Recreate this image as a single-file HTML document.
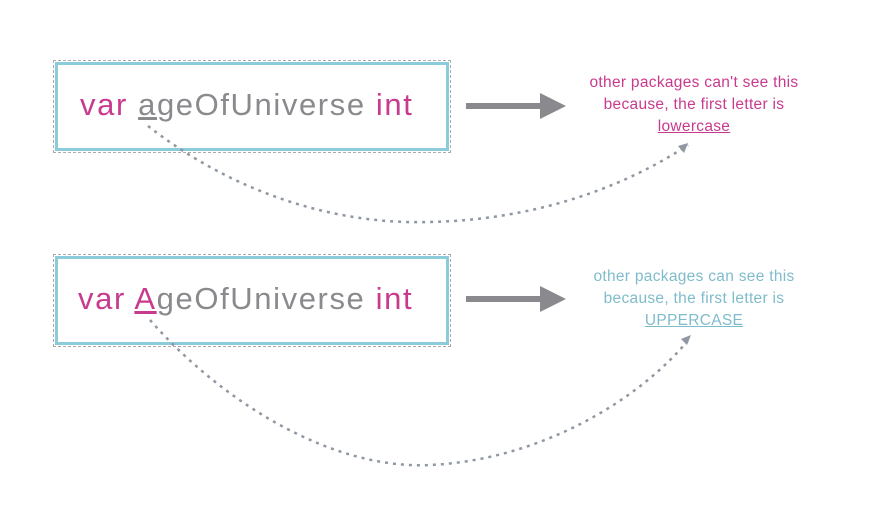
<!DOCTYPE html>
<html><head><style>
body{margin:0;width:880px;height:528px;background:#fff;overflow:hidden;position:relative;font-family:"Liberation Sans",sans-serif}
.box{position:absolute;border:3px solid #8ccbd9;box-sizing:border-box;outline:1px dashed #aaa;outline-offset:1px}
.code{position:absolute;font-size:31px;color:#8a8a8e;white-space:nowrap;letter-spacing:1.6px}
.p{color:#c83a8e}
.note{position:absolute;width:280px;text-align:center;font-size:15.5px;line-height:22px;letter-spacing:0.3px}
</style></head><body>
<div class="box" style="left:55px;top:62px;width:394px;height:89px"></div>
<div class="box" style="left:55px;top:256px;width:394px;height:89px"></div>
<div class="code" style="left:80px;top:87px"><span class="p">var</span> <u>a</u>geOfUniverse <span class="p">int</span></div>
<div class="code" style="left:78px;top:281px"><span class="p">var</span> <u class="p">A</u>geOfUniverse <span class="p">int</span></div>
<div class="note" style="left:554px;top:72px;color:#c83a8e">other packages can't see this<br>because, the first letter is<br><u>lowercase</u></div>
<div class="note" style="left:554px;top:266px;color:#7fbccb">other packages can see this<br>because, the first letter is<br><u>UPPERCASE</u></div>
<svg width="880" height="528" style="position:absolute;left:0;top:0">
<g fill="#8a8a8e" stroke="#8a8a8e">
<line x1="466" y1="106" x2="545" y2="106" stroke-width="6"/>
<polygon points="540,93 566,106 540,119" stroke="none"/>
<line x1="466" y1="299" x2="545" y2="299" stroke-width="6"/>
<polygon points="540,286 566,299 540,312" stroke="none"/>
</g>
<g fill="none" stroke="#8f97a3" stroke-width="2.5" stroke-dasharray="3 5">
<path d="M148,126 C230,190 330,225 430,222 C530,220 620,190 688,145"/>
<path d="M150,320 C220,400 330,470 430,465 C540,460 640,400 690,338"/>
</g>
<polygon points="688,143 678,146 684,153" fill="#8f97a3"/>
<polygon points="691,335 681,339 687,345" fill="#8f97a3"/>
</svg>
</body></html>
